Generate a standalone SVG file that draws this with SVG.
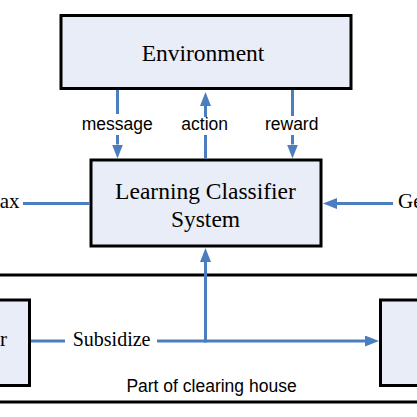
<svg xmlns="http://www.w3.org/2000/svg" width="417" height="417" viewBox="0 0 417 417">
<defs>
<style>
.box{fill:#e8edf8;stroke:#000;stroke-width:3}
.sep{stroke:#000;stroke-width:3;fill:none}
.con{stroke:#4a7ebf;stroke-width:3;fill:none}
.serif{font-family:"Liberation Serif","Times New Roman",serif;fill:#000}
.sans{font-family:"Liberation Sans",Arial,sans-serif;fill:#000}
</style>
<marker id="ah" markerUnits="userSpaceOnUse" markerWidth="14" markerHeight="11" refX="0" refY="5.5" orient="auto" viewBox="0 0 14 11">
<path d="M0,0 L14,5.5 L0,11 z" fill="#4a7ebf"/>
</marker>
</defs>
<rect width="417" height="417" fill="#fff"/>
<g id="clearing-house">
<line class="sep" x1="0" y1="275" x2="417" y2="275"/>
<line class="sep" x1="0" y1="402" x2="417" y2="402"/>
<text class="sans" x="211.5" y="392" font-size="17.5" text-anchor="middle">Part of clearing house</text>
</g>
<g id="environment">
<rect class="box" x="61" y="15.5" width="290" height="73"/>
<text class="serif" x="203" y="61" font-size="23.5" text-anchor="middle">Environment</text>
</g>
<g id="lcs">
<rect class="box" x="91" y="160" width="230" height="86"/>
<text class="serif" x="205.5" y="199" font-size="23.5" text-anchor="middle">Learning Classifier</text>
<text class="serif" x="205.5" y="227" font-size="23.5" text-anchor="middle">System</text>
</g>
<g id="left-node">
<rect class="box" x="-10" y="300" width="39.5" height="85.5"/>
<text class="serif" x="7" y="346" font-size="21" text-anchor="end">r</text>
</g>
<g id="right-node">
<rect class="box" x="380.5" y="300" width="50" height="85.5"/>
</g>
<g id="tax">
<text class="serif" x="19.5" y="208" font-size="21" text-anchor="end">ax</text>
</g>
<g id="gov">
<text class="serif" x="398" y="208" font-size="21">Ge</text>
</g>
<g id="connectors">
<line class="con" x1="117.5" y1="90" x2="117.5" y2="114"/>
<line class="con" x1="117.5" y1="135" x2="117.5" y2="144.5" marker-end="url(#ah)"/>
<line class="con" x1="205.5" y1="158.5" x2="205.5" y2="135"/>
<line class="con" x1="205.5" y1="117" x2="205.5" y2="106" marker-end="url(#ah)"/>
<line class="con" x1="292.5" y1="90" x2="292.5" y2="116"/>
<line class="con" x1="292.5" y1="135" x2="292.5" y2="144.5" marker-end="url(#ah)"/>
<line class="con" x1="23" y1="203.5" x2="90" y2="203.5"/>
<line class="con" x1="393" y1="203.5" x2="337" y2="203.5" marker-end="url(#ah)"/>
<line class="con" x1="31" y1="341" x2="65" y2="341"/>
<line class="con" x1="157" y1="341" x2="365" y2="341" marker-end="url(#ah)"/>
<line class="con" x1="205.5" y1="342.5" x2="205.5" y2="262" marker-end="url(#ah)"/>
<text class="sans" x="117.2" y="130" font-size="17.5" text-anchor="middle">message</text>
<text class="sans" x="204.7" y="130" font-size="17.5" text-anchor="middle">action</text>
<text class="sans" x="291.7" y="130" font-size="17.5" text-anchor="middle">reward</text>
<text class="serif" x="72.7" y="346" font-size="20">Subsidize</text>
</g>
</svg>
